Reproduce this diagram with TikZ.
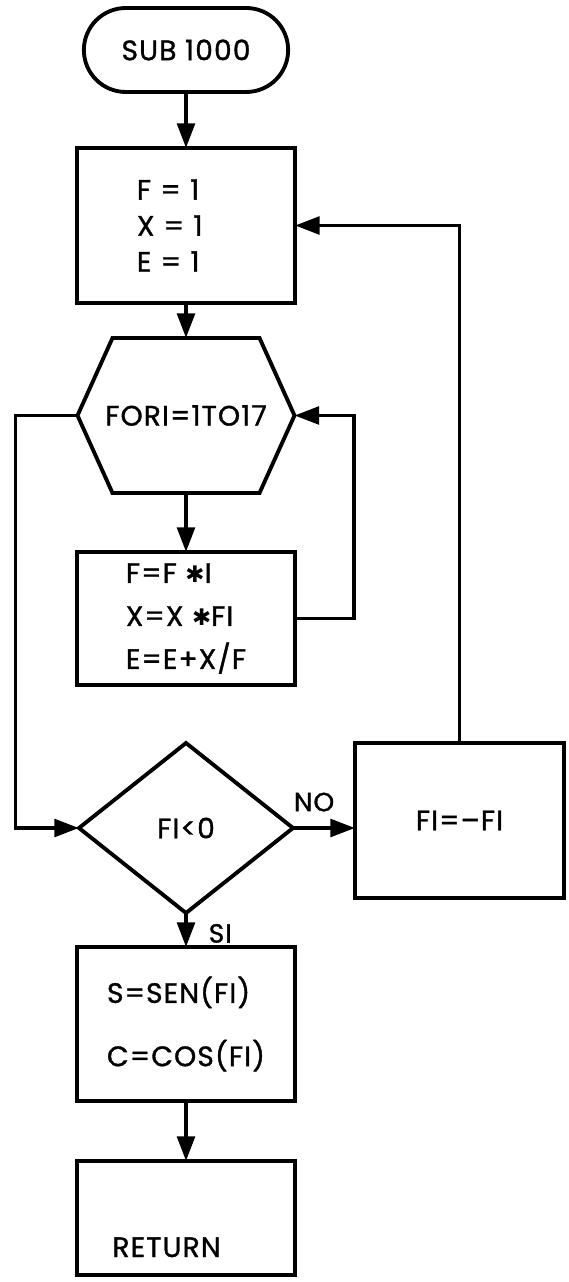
\documentclass[tikz,border=0pt]{standalone}
\usepackage{fontspec}
\setmainfont{Poppins}[FakeBold=1.2, LetterSpace=4]
\newfontfamily\symbfont{DejaVu Sans}
\usetikzlibrary{positioning,arrows.meta,shapes.geometric,shapes.misc}

\begin{document}
\begin{tikzpicture}[
    node distance=1.1cm,
    every node/.style={font=\fontsize{16}{19}\selectfont},
    box/.style={draw, line width=2.2pt, minimum width=4.36cm,
                align=left, inner sep=0pt, outer sep=0pt},
    term/.style={draw, line width=2.2pt, rounded rectangle, outer sep=0pt,
                 minimum width=4.32cm, minimum height=1.68cm},
    decision/.style={draw, diamond, line width=2.2pt, minimum width=4.28cm,
                     minimum height=3.4cm, inner sep=0pt, outer sep=0pt},
    outline/.style={line width=2.2pt},
    arrow/.style={-{Triangle[length=14pt,width=10pt]}, line width=2.2pt},
    tag/.style={font=\fontsize{15}{17}\selectfont},
]
\useasboundingbox (0,0) rectangle (11.36,-25.64);

% Steps
\node[term] (start) at (3.72,-1.0) {SUB 1000};
\node[box, minimum height=3.1cm, below=1.12cm of start,
      inner xsep=1.2cm, text width=1.96cm] (init)
    {F = 1\\[1.5pt]X = 1\\[1.5pt]E = 1};
\node[minimum width=4.34cm, minimum height=3.1cm, inner sep=0pt, outer sep=0pt,
      below=0.7cm of init] (loop) {FORI=1TO17};
\draw[outline] ([xshift=0.7cm]loop.north west) -- ([xshift=-0.7cm]loop.north east)
    -- (loop.east) -- ([xshift=-0.7cm]loop.south east)
    -- ([xshift=0.7cm]loop.south west) -- (loop.west) -- cycle;
\node[box, minimum height=2.66cm, below=1.18cm of loop] (body)
    {F=F {\symbfont\fontsize{13}{15}\selectfont ✱}I\\[5.5pt]
     X=X {\symbfont\fontsize{13}{15}\selectfont ✱}FI\\[5.5pt]
     E=E+X/F};
\node[decision, below=1.16cm of body] (test) {FI<0};
\node[box, minimum width=4.18cm, minimum height=3.1cm, align=center,
      right=1.24cm of test, yshift=0.15cm] (neg) {FI=--FI};
\node[box, minimum height=3.08cm, below=0.68cm of test] (trig)
    {S=SEN(FI)\\[17pt]C=COS(FI)};
\node[box, below=1.2cm of trig, inner xsep=0.7cm, text width=2.94cm,
      text height=1.92cm, text depth=0.36cm] (ret) {RETURN};

% Arrows with labels
\draw[arrow] (start) -- (init);
\draw[arrow] (init) -- (loop);
\draw[arrow] (loop) -- (body);
\draw[arrow] (body.east) -- ++(1.18cm,0) |- (loop.east);
\draw[arrow] (loop.west) -- ++(-1.24cm,0) |- (test.west);
\draw[arrow] (test.east) -- (test.east -| neg.west)
    node[tag, pos=0.34, above=5pt] (no) {NO};
\draw[arrow] (neg.north) |- (init.east);
\draw[arrow] (test) -- (trig) node[tag, pos=0.6, right=0.3cm] (si) {SI};
\draw[arrow] (trig) -- (ret);
\end{tikzpicture}
\end{document}
